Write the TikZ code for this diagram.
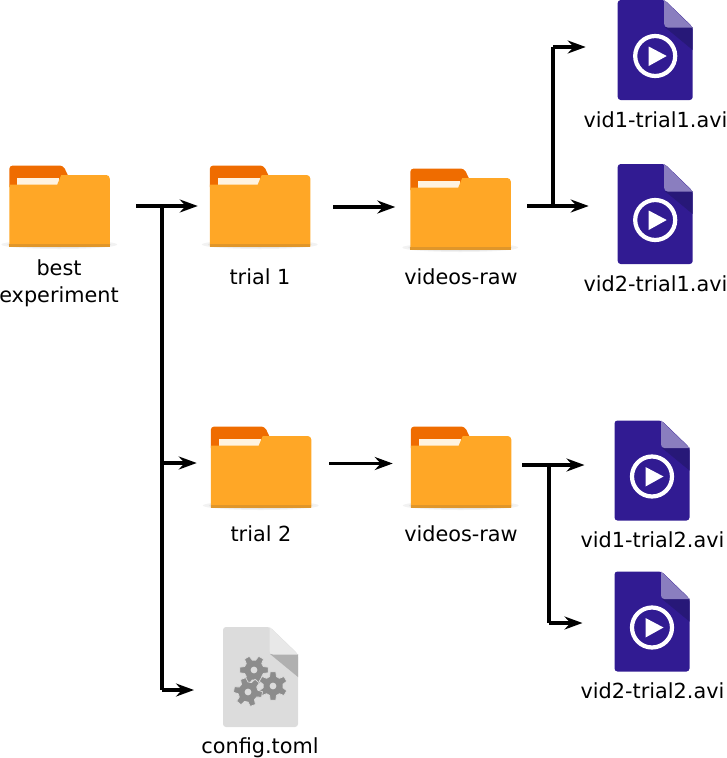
\documentclass[tikz,border=0pt]{standalone}
\usepackage{fontspec}
\setmainfont{DejaVu Sans}
\usetikzlibrary{arrows.meta}
\definecolor{fbody}{HTML}{FFA726}
\definecolor{ftab}{HTML}{EF6C00}
\definecolor{fband}{HTML}{E0962A}
\definecolor{fpaper}{HTML}{FFF3E0}
\definecolor{vbody}{HTML}{311B92}
\definecolor{vfold}{HTML}{8A7EBF}
\definecolor{vshade}{HTML}{271878}
\definecolor{cbody}{HTML}{DCDCDC}
\definecolor{cfold}{HTML}{E8E8E8}
\definecolor{cshade}{HTML}{B0B0B0}
\definecolor{cgear}{HTML}{8C8C8C}
\newcommand{\gearshape}[2]{%
  \fill[cgear,draw=cbody,line width=.7pt,shift={(#1)}] (-20+#2:10)
    \foreach \i in {0,...,5}{ -- ({\i*60-20+#2}:10) -- ({\i*60-11+#2}:14.5) -- ({\i*60+11+#2}:14.5) -- ({\i*60+20+#2}:10)} -- cycle;
  \fill[cbody,shift={(#1)}] (0,0) circle (3.4);
}
\tikzset{
  x=1pt,y=-1pt,
  iconbox/.style={inner sep=0pt,outer sep=0pt,minimum width=#1},
  lbl/.style={font=\fontsize{20.8}{24}\selectfont,inner sep=0pt,anchor=base,text=black},
  arr/.style={line width=4.2pt,-{Stealth[length=18pt,width=13pt,inset=6pt]}},
  arrthin/.style={arr,line width=3.4pt},
  trunk/.style={line width=4.2pt},
  folder/.pic={
    \foreach \o in {0,1,2}{\fill[black,opacity=.05] (50,79.5) ellipse ({58-\o*6} and {4.5-\o});}
    \fill[ftab,rounded corners=3.5pt] (0,22) -- (0,0.5) -- (54,0.5) [sharp corners] -- (58.5,10) -- (58.5,22) -- cycle;
    \fill[fpaper] (8,13) rectangle (50,19.5);
    \fill[fbody] (0,19.5) -- (48,19.5) -- (52,10) -- (97,10) .. controls (99,10) and (100.5,11.5) .. (100.5,13.5) -- (100.5,81.5) -- (0,81.5) -- cycle;
    \fill[fband] (0,78.5) rectangle (100.5,81.5);
  },
  videofile/.pic={
    \fill[vbody,rounded corners=3pt] (0,0) -- (47,0) -- (75,27) -- (75,100) -- (0,100) -- cycle;
    \fill[vshade] (47,27) -- (75,27) -- (75,50) -- cycle;
    \fill[vfold] (46.5,0) -- (75,27.5) -- (50,27.5) .. controls (48,27.5) and (46.5,26) .. (46.5,24) -- cycle;
    \draw[white,line width=4.2pt] (37.5,56) circle (20);
    \fill[white] (31,46.5) -- (49,56) -- (31,66) -- cycle;
  },
  configfile/.pic={
    \fill[cbody,rounded corners=3pt] (0,0) -- (47,0) -- (75,27) -- (75,100) -- (0,100) -- cycle;
    \fill[cshade] (47,27) -- (75,27) -- (75,50) -- cycle;
    \fill[cfold] (46.5,0) -- (75,27.5) -- (50,27.5) .. controls (48,27.5) and (46.5,26) .. (46.5,24) -- cycle;
    \gearshape{31,43}{0}
    \gearshape{50,59}{30}
    \gearshape{25,65}{10}
  },
}
\begin{document}
\begin{tikzpicture}
\useasboundingbox (0,0) rectangle (726,758);
% folders
\node[iconbox=100.5pt,minimum height=82pt] (f1) at (59.5,206) {};
\node[iconbox=100.5pt,minimum height=82pt] (f2) at (260,206) {};
\node[iconbox=100.5pt,minimum height=82pt] (f3) at (460.5,209) {};
\node[iconbox=100.5pt,minimum height=82pt] (f4) at (261,467) {};
\node[iconbox=100.5pt,minimum height=82pt] (f5) at (461,467) {};
\foreach \n in {f1,f2,f3,f4,f5}{\pic at (\n.north west) {folder};}
% files
\node[iconbox=75pt,minimum height=100pt] (v1) at (655.2,50) {};
\node[iconbox=75pt,minimum height=100pt] (v2) at (655.2,214) {};
\node[iconbox=75pt,minimum height=100pt] (v3) at (652,470.5) {};
\node[iconbox=75pt,minimum height=100pt] (v4) at (652,621.5) {};
\node[iconbox=75pt,minimum height=100pt] (c1) at (260.5,677) {};
\foreach \n in {v1,v2,v3,v4}{\pic at (\n.north west) {videofile};}
\pic at (c1.north west) {configfile};
% labels
\node[lbl] (l1a) at (59,275) {best};
\node[lbl] (l1b) at (59,302) {experiment};
\node[lbl] (l2) at (260,284) {trial 1};
\node[lbl] (l3) at (461,284) {videos-raw};
\node[lbl] (l4) at (261,541) {trial 2};
\node[lbl] (l5) at (461,541) {videos-raw};
\node[lbl] (l6) at (655.5,127) {vid1-trial1.avi};
\node[lbl] (l7) at (655.5,291) {vid2-trial1.avi};
\node[lbl] (l8) at (652.5,547) {vid1-trial2.avi};
\node[lbl] (l9) at (652.5,698) {vid2-trial2.avi};
\node[lbl] (l10) at (260,753) {config.toml};
% connectors
\coordinate (s1) at (136,206);
\coordinate (j1) at (162,206);
\coordinate (j2) at (162,463);
\coordinate (j3) at (162,690);
\coordinate (s2) at (333,207);
\coordinate (s3) at (329,463.5);
\coordinate (s4) at (527,206);
\coordinate (j4) at (553,206);
\coordinate (j5) at (553,47);
\coordinate (s5) at (522,465);
\coordinate (j6) at (549,465);
\coordinate (j7) at (549,623);
\draw[arr,shorten >=12pt] (s1) -- (s1 -| f2.west);
\draw[trunk] (j1) -- (j3);
\draw[arrthin,shorten >=14pt] (j2) -- (j2 -| f4.west);
\draw[arrthin,shorten >=29pt] (j3) -- (j3 -| c1.west);
\draw[arr,shorten >=15pt] (s2) -- (s2 -| f3.west);
\draw[arrthin,shorten >=18pt] (s3) -- (s3 -| f5.west);
\draw[arr,shorten >=29pt] (s4) -- (s4 -| v2.west);
\draw[trunk] (j4) -- (j5);
\draw[arrthin,shorten >=32pt] (j5) -- (j5 -| v1.west);
\draw[arr,shorten >=30pt] (s5) -- (s5 -| v3.west);
\draw[trunk] (j6) -- (j7);
\draw[arrthin,shorten >=32pt] (j7) -- (j7 -| v4.west);
\end{tikzpicture}
\end{document}
